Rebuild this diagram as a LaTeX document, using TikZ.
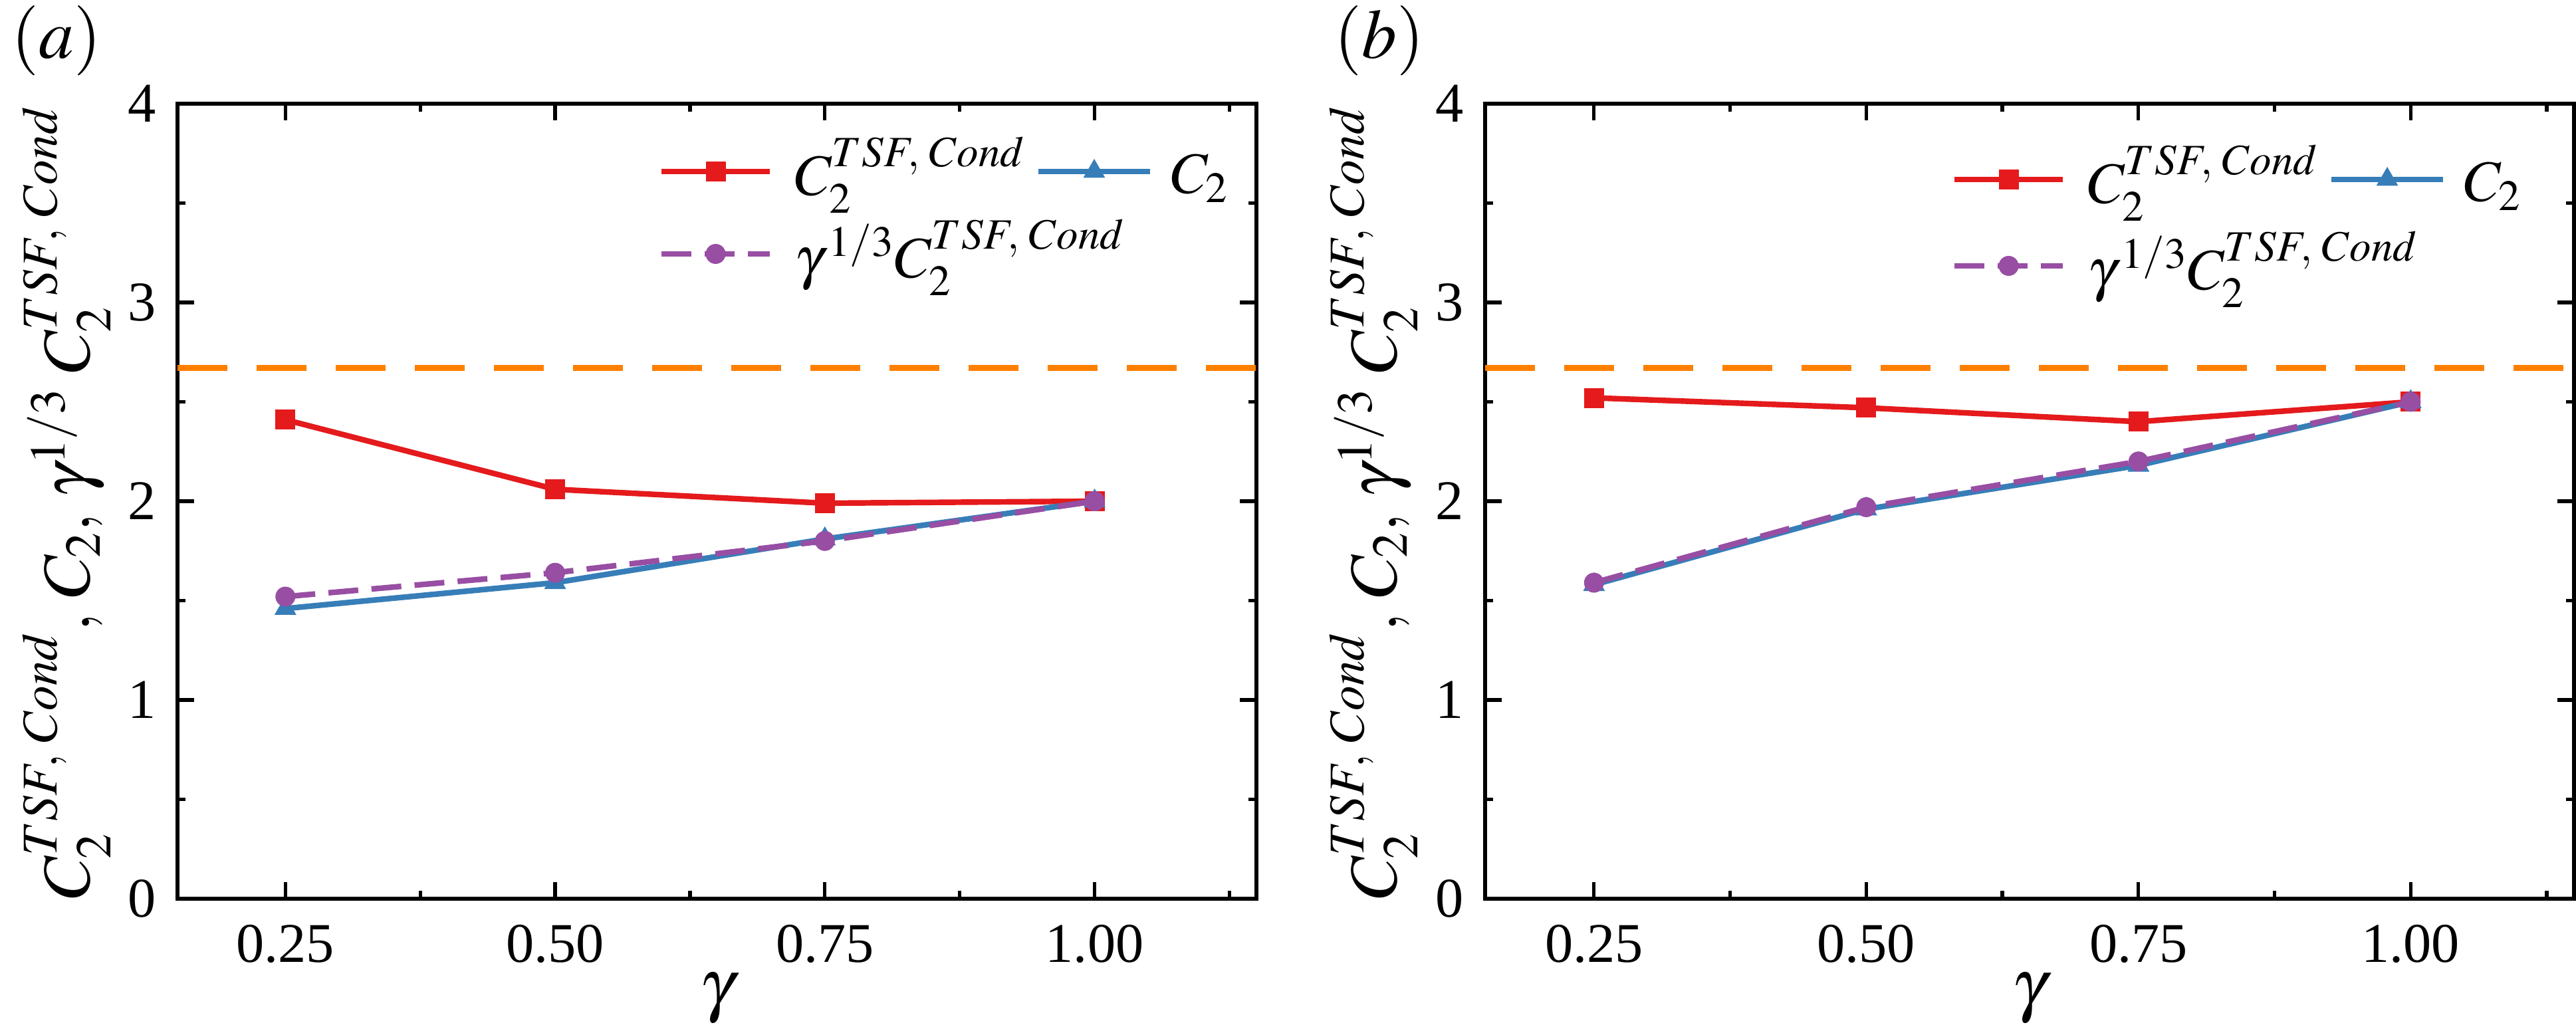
\documentclass[tikz,border=0pt]{standalone}
\usepackage{mathptmx}
\usepackage{fontspec}
\setmainfont{Liberation Serif}
\usetikzlibrary{shapes.geometric,calc}
\definecolor{cred}{RGB}{228,26,28}
\definecolor{cblue}{RGB}{55,126,184}
\definecolor{cpurp}{RGB}{152,78,163}
\definecolor{corng}{RGB}{255,127,0}
\tikzset{
 frame/.style={line width=1.5pt},
 dline/.style={line width=2.4pt},
 sq/.style={rectangle,fill=cred,inner sep=0pt,minimum size=0.3cm},
 ci/.style={circle,fill=cpurp,inner sep=0pt,minimum size=0.3cm},
 tri/.style={regular polygon,regular polygon sides=3,fill=cblue,inner sep=0pt,minimum size=0.38cm},
 ticklab/.style={font=\fontsize{24}{26}\selectfont},
 leg/.style={font=\fontsize{25}{30}\selectfont,anchor=west,inner sep=0pt},
 ylab/.style={font=\fontsize{29}{34}\selectfont,rotate=90},
}
\newcommand\myaxes{%
 \draw[frame] (0.15,0) rectangle (1.15,4);
 \foreach \g/\t in {0.25/0.25,0.5/0.50,0.75/0.75,1.0/1.00}{
   \draw[frame] (\g,0) -- ++(0,0.25cm); \draw[frame] (\g,4) -- ++(0,-0.25cm);
   \node[ticklab] (xt\t) at ([yshift=-0.68cm]\g,0) {\t};}
 \foreach \g in {0.375,0.625,0.875,1.125}{
   \draw[frame] (\g,0) -- ++(0,0.12cm); \draw[frame] (\g,4) -- ++(0,-0.12cm);}
 \foreach \v in {0,1,2,3,4}{
   \draw[frame] (0.15,\v) -- ++(0.25cm,0); \draw[frame] (1.15,\v) -- ++(-0.25cm,0);
   \node[ticklab,anchor=east] (yt\v) at ([xshift=-0.2cm]0.15,\v) {\v};}
 \foreach \v in {0.5,1.5,2.5,3.5}{
   \draw[frame] (0.15,\v) -- ++(0.12cm,0); \draw[frame] (1.15,\v) -- ++(-0.12cm,0);}
 \coordinate (hl) at (0.15,2.67); \coordinate (hr) at (1.15,2.67);
 \draw[corng,line width=2.4pt,dash pattern=on 0.75cm off 0.44cm] (hl) -- (hr);
 \node[font=\fontsize{30}{34}\selectfont] (xl) at ([yshift=-1.5cm]0.65,0) {$\gamma$};
}
\newcommand\mydata[3]{%
 \foreach [count=\i] \g/\v in {#1}{\coordinate (r\i) at (\g,\v);}
 \foreach [count=\i] \g/\v in {#2}{\coordinate (b\i) at (\g,\v);}
 \foreach [count=\i] \g/\v in {#3}{\coordinate (p\i) at (\g,\v);}
 \draw[dline,cred] (r1) -- (r2) -- (r3) -- (r4);
 \foreach \i in {1,...,4}{\node[sq] (R\i) at (r\i) {};}
 \draw[dline,cblue] (b1) -- (b2) -- (b3) -- (b4);
 \foreach \i in {1,...,4}{\node[tri] (B\i) at (b\i) {};}
 \draw[dline,cpurp,dash pattern=on 0.45cm off 0.2cm] (p1) -- (p2) -- (p3) -- (p4);
 \foreach \i in {1,...,4}{\node[ci] (P\i) at (p\i) {};}
}
\newcommand\mylegend[4]{%
 \coordinate (l1a) at (#1,#2); \coordinate (l1b) at ([xshift=1.63cm]l1a);
 \draw[dline,cred] (l1a) -- (l1b); \node[sq] (lm1) at ($(l1a)!0.5!(l1b)$) {};
 \node[leg] (lt1) at ([xshift=0.37cm,yshift=-0.05cm]l1b) {$C_2^{TSF,\;Cond}$};
 \coordinate (l2a) at (#4,#2); \coordinate (l2b) at ([xshift=1.68cm]l2a);
 \draw[dline,cblue] (l2a) -- (l2b); \node[tri] (lm2) at ($(l2a)!0.5!(l2b)$) {};
 \node[leg] (lt2) at ([xshift=0.31cm,yshift=-0.1cm]l2b) {$C_2$};
 \coordinate (l3a) at (#1,#3); \coordinate (l3b) at ([xshift=1.63cm]l3a);
 \draw[dline,cpurp,dash pattern=on 0.45cm off 0.2cm] (l3a) -- (l3b); \node[ci] (lm3) at ($(l3a)!0.5!(l3b)$) {};
 \node[leg] (lt3) at ([xshift=0.37cm,yshift=-0.05cm]l3b) {$\gamma^{\,1/3}C_2^{TSF,\;Cond}$};
}
\begin{document}
\begin{tikzpicture}
\useasboundingbox (0,0) rectangle (38.75,15.56);
\begin{scope}[shift={(0.2355cm,2.04cm)},x=16.23cm,y=2.99cm]
 \myaxes
 \mydata{0.25/2.41,0.5/2.06,0.75/1.99,1.0/2.00}{0.25/1.46,0.5/1.59,0.75/1.81,1.0/2.00}{0.25/1.52,0.5/1.64,0.75/1.80,1.0/2.00}
\end{scope}
\mylegend{9.95}{12.98}{11.74}{15.62}
\node[font=\fontsize{30}{34}\selectfont] (la) at (0.85,14.95) {$(a)$};
\node[ylab] (yla) at (1.0,8.0) {$C_2^{TSF,\;Cond},\,C_2,\,\gamma^{1/3}\;C_2^{TSF,\;Cond}$};
\begin{scope}[shift={(19.883cm,2.04cm)},x=16.38cm,y=2.99cm]
 \myaxes
 \mydata{0.25/2.52,0.5/2.47,0.75/2.40,1.0/2.50}{0.25/1.58,0.5/1.96,0.75/2.18,1.0/2.50}{0.25/1.59,0.5/1.97,0.75/2.20,1.0/2.50}
\end{scope}
\mylegend{29.40}{12.86}{11.56}{35.07}
\node[font=\fontsize{30}{34}\selectfont] (lb) at (20.75,14.95) {$(b)$};
\node[ylab] (ylb) at (20.66,8.0) {$C_2^{TSF,\;Cond},\,C_2,\,\gamma^{1/3}\;C_2^{TSF,\;Cond}$};
\end{tikzpicture}
\end{document}
